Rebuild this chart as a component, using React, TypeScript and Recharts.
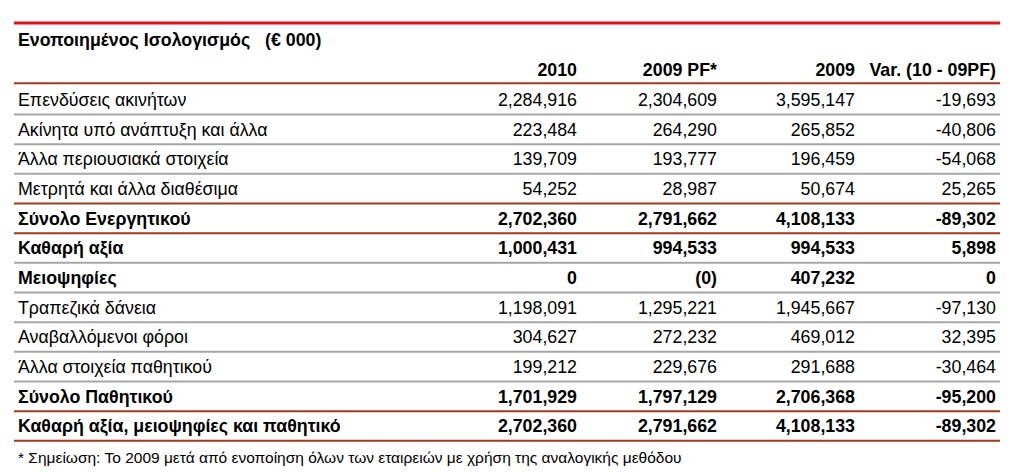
import { ComposedChart, Scatter, XAxis, YAxis, ReferenceLine } from 'recharts'

const title = 'Ενοποιημένος Ισολογισμός   (€ 000)'
const footnote = '* Σημείωση: Το 2009 μετά από ενοποίηση όλων των εταιρειών με χρήση της αναλογικής μεθόδου'

const columnHeaders = ['2010', '2009 PF*', '2009', 'Var. (10 - 09PF)']

const rowLabels = [
  'Επενδύσεις ακινήτων',
  'Ακίνητα υπό ανάπτυξη και άλλα',
  'Άλλα περιουσιακά στοιχεία',
  'Μετρητά και άλλα διαθέσιμα',
  'Σύνολο Ενεργητικού',
  'Καθαρή αξία',
  'Μειοψηφίες',
  'Τραπεζικά δάνεια',
  'Αναβαλλόμενοι φόροι',
  'Άλλα στοιχεία παθητικού',
  'Σύνολο Παθητικού',
  'Καθαρή αξία, μειοψηφίες και παθητικό',
]

const values2010 = [2284916, 223484, 139709, 54252, 2702360, 1000431, 0, 1198091, 304627, 199212, 1701929, 2702360]
// -0 is a small negative that rounds to zero, shown as (0)
const values2009PF = [2304609, 264290, 193777, 28987, 2791662, 994533, -0, 1295221, 272232, 229676, 1797129, 2791662]
const values2009 = [3595147, 265852, 196459, 50674, 4108133, 994533, 407232, 1945667, 469012, 291688, 2706368, 4108133]
const valuesVar = [-19693, -40806, -54068, 25265, -89302, 5898, 0, -97130, 32395, -30464, -95200, -89302]

const boldRows = [4, 5, 6, 10, 11]
// line under each row: 'r' = red rule, 'g' = grey rule
const rulesBelow = ['g', 'g', 'g', 'r', 'r', 'g', 'g', 'g', 'g', 'g', 'r', 'r']

const W = 1024
const H = 472
const FONT = '"Liberation Sans", Arial, sans-serif'
const LEFT = 14
const RIGHT = 1000
const colRight = [577, 717, 855, 996]
const RED = '#e0141c'
const BROWN = '#a23a1c'
const GREY = '#a6a6a6'

const fmt = (v: number) => {
  if (Object.is(v, -0)) return '(0)'
  return v.toLocaleString('en-US')
}

const seriesValues = [values2010, values2009PF, values2009, valuesVar]

const labelData = rowLabels.map((t, i) => ({ x: LEFT + 4, y: i + 1, text: t, bold: boldRows.includes(i) }))
const headerData = columnHeaders.map((t, c) => ({ x: colRight[c], y: 0, text: t, bold: true }))
const valueData = seriesValues.map((arr, c) =>
  arr.map((v, i) => ({ x: colRight[c], y: i + 1, text: fmt(v), bold: boldRows.includes(i) }))
)

const textShape = (anchor: 'start' | 'end', size = 17.8) => (props: any) => {
  const { cx, cy, payload } = props
  return (
    <text
      x={cx}
      y={cy}
      dy="0.36em"
      textAnchor={anchor}
      fontFamily={FONT}
      fontSize={size}
      fontWeight={payload.bold ? 'bold' : 'normal'}
      fill="#000"
      style={{ whiteSpace: 'pre' }}
    >
      {payload.text}
    </text>
  )
}

export default function App() {
  return (
    <div style={{ position: 'absolute', left: 0, top: 0, width: W, height: H, background: '#fff' }}>
      <ComposedChart width={W} height={H} margin={{ top: 0, right: 0, bottom: 0, left: 0 }}>
        <XAxis type="number" dataKey="x" domain={[0, W]} hide />
        <YAxis type="number" dataKey="y" domain={[-2.36, 13.55]} reversed hide />
        <ReferenceLine segment={[{ x: LEFT, y: -1.585 }, { x: RIGHT, y: -1.585 }]} stroke={RED} strokeWidth={3} />
        <ReferenceLine segment={[{ x: LEFT, y: 0.45 }, { x: RIGHT, y: 0.45 }]} stroke={BROWN} strokeWidth={2} />
        {rulesBelow.map((r, i) => (
          <ReferenceLine
            key={i}
            segment={[{ x: LEFT, y: i + 1.5 }, { x: RIGHT, y: i + 1.5 }]}
            stroke={r === 'r' ? BROWN : GREY}
            strokeWidth={2}
          />
        ))}
        <Scatter
          data={[{ x: LEFT + 4, y: -1.02, text: title, bold: true }]}
          shape={textShape('start')}
          isAnimationActive={false}
        />
        <Scatter
          data={[{ x: LEFT + 4, y: 13.07, text: footnote, bold: false }]}
          shape={textShape('start', 15.5)}
          isAnimationActive={false}
        />
        <Scatter data={headerData} shape={textShape('end')} isAnimationActive={false} />
        <Scatter data={labelData} shape={textShape('start')} isAnimationActive={false} />
        {valueData.map((d, c) => (
          <Scatter key={c} data={d} shape={textShape('end')} isAnimationActive={false} />
        ))}
      </ComposedChart>
    </div>
  )
}
